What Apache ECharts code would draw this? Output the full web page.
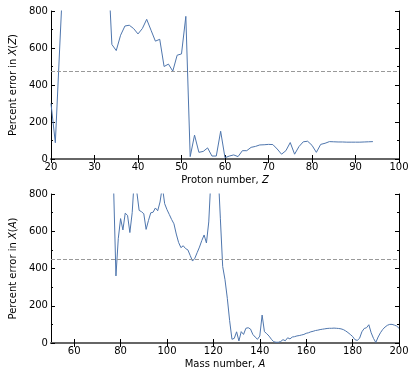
<!DOCTYPE html>
<html>
<head>
<meta charset="utf-8">
<script src="https://cdn.jsdelivr.net/npm/echarts@6/dist/echarts.min.js"></script>
<style>
  html, body { margin: 0; padding: 0; background: #fff; }
  #chart { width: 415px; height: 374px; }
</style>
</head>
<body>
<div id="chart"></div>
<script>
// top panel: percent error vs proton number Z
const protonStart = 20;
const zError = [
  300, 88, 600, 1100, 1200, 1200, 1200, 1200, 1200, 1200,
  1200, 1200, 1200, 1100, 619, 586, 669, 719, 723, 705,
  676, 705, 755, 696, 637, 647, 500, 513, 475, 561,
  568, 771, 13, 129, 36, 41, 60, 16, 16, 150,
  7, 16, 22, 13, 45, 45, 63, 68, 76, 77,
  79, 78, 54, 26, 45, 89, 26, 67, 93, 96,
  74, 36, 79, 85, 94, 93, 92, 92, 91, 91,
  91, 91, 92, 93, 94
];
const zMeanLine = 472;

// bottom panel: percent error vs mass number A
const massStart = 76;
const aError = [
  1300, 830, 360, 560, 668, 607, 697, 685, 593, 700,
  900, 810, 712, 705, 694, 610, 657, 699, 702, 725,
  710, 757, 840, 748, 716, 690, 663, 640, 585, 540,
  512, 522, 507, 500, 470, 440, 455, 485, 515, 550,
  580, 537, 650, 900, 1100, 1100, 930, 670, 411, 340,
  240, 120, 20, 25, 60, 11, 61, 46, 79, 82,
  75, 46, 32, 20, 37, 150, 61, 50, 37, 20,
  7, 4, 4, 8, 18, 12, 28, 22, 32, 34,
  38, 40, 43, 46, 52, 55, 60, 63, 67, 69,
  72, 74, 76, 78, 79, 79, 80, 79, 78, 76,
  72, 65, 56, 46, 35, 18, 14, 25, 60, 78,
  82, 98, 55, 25, 3, 32, 55, 73, 86, 95,
  100, 100, 96, 91, 79
];
const aMeanLine = 452;

const zTicks = [20, 30, 40, 50, 60, 70, 80, 90, 100];
const aTicks = [60, 80, 100, 120, 140, 160, 180, 200];

const lineColor = '#4f76ad';
const font = 'DejaVu Sans';

const zData = zError.map((v, i) => [protonStart + i, v]);
const aData = aError.map((v, i) => [massStart + i, v]);

const chart = echarts.init(document.getElementById('chart'));

function bottomAxis(grid, min, max, ticks, name) {
  return {
    type: 'value', gridIndex: grid, min: min, max: max, position: 'bottom',
    axisLine: { show: true, lineStyle: { color: '#000', width: 1 } },
    axisTick: { show: true, inside: true, length: 4, customValues: ticks, lineStyle: { color: '#000' } },
    axisLabel: { show: true, customValues: ticks, color: '#000', fontFamily: font, fontSize: 10, margin: 3 },
    splitLine: { show: false },
    name: name, nameLocation: 'middle', nameGap: 16,
    nameTextStyle: {
      color: '#000', fontFamily: font, fontSize: 10,
      rich: { i: { fontStyle: 'italic', fontFamily: font, fontSize: 10, color: '#000' } }
    }
  };
}

function topAxis(grid, min, max, ticks) {
  return {
    type: 'value', gridIndex: grid, min: min, max: max, position: 'top',
    axisLine: { show: true, lineStyle: { color: '#666', width: 2 } },
    axisTick: { show: true, inside: true, length: 4, customValues: ticks, lineStyle: { color: '#000' } },
    axisLabel: { show: false },
    splitLine: { show: false }
  };
}

function leftAxis(grid, name) {
  return {
    type: 'value', gridIndex: grid, min: 0, max: 800, interval: 200, position: 'left',
    axisLine: { show: true, lineStyle: { color: '#000', width: 1 } },
    axisTick: { show: true, inside: true, length: 4, lineStyle: { color: '#000' } },
    minorTick: { show: true, splitNumber: 2, length: 2, lineStyle: { color: '#000' } },
    axisLabel: { color: '#000', fontFamily: font, fontSize: 10, margin: 3 },
    splitLine: { show: false },
    name: name, nameLocation: 'middle', nameGap: 27, nameRotate: 90,
    nameTextStyle: {
      color: '#000', fontFamily: font, fontSize: 10,
      rich: { i: { fontStyle: 'italic', fontFamily: font, fontSize: 10, color: '#000' } }
    }
  };
}

function rightAxis(grid) {
  return {
    type: 'value', gridIndex: grid, min: 0, max: 800, interval: 200, position: 'right',
    axisLine: { show: true, lineStyle: { color: '#000', width: 1 } },
    axisTick: { show: true, inside: true, length: 4, lineStyle: { color: '#000' } },
    minorTick: { show: true, splitNumber: 2, length: 2, lineStyle: { color: '#000' } },
    axisLabel: { show: false },
    splitLine: { show: false }
  };
}

function meanMark(v) {
  return {
    silent: true, symbol: 'none', label: { show: false },
    lineStyle: { color: '#999', type: [4, 2], width: 1 },
    data: [{ yAxis: v }]
  };
}

const option = {
  animation: false,
  backgroundColor: '#fff',
  grid: [
    { left: 40, right: 16, top: 11, height: 148 },
    { left: 40, right: 16, top: 194, height: 149 }
  ],
  xAxis: [
    bottomAxis(0, 20, 100, zTicks, 'Proton number, {i|Z}'),
    bottomAxis(1, 50, 200, aTicks, 'Mass number, {i|A}'),
    topAxis(0, 20, 100, zTicks),
    topAxis(1, 50, 200, aTicks)
  ],
  yAxis: [
    leftAxis(0, 'Percent error in {i|X}({i|Z})'),
    leftAxis(1, 'Percent error in {i|X}({i|A})'),
    rightAxis(0),
    rightAxis(1)
  ],
  series: [
    {
      type: 'line', xAxisIndex: 0, yAxisIndex: 0, data: zData,
      showSymbol: false, clip: true,
      lineStyle: { color: lineColor, width: 1 },
      markLine: meanMark(zMeanLine)
    },
    {
      type: 'line', xAxisIndex: 1, yAxisIndex: 1, data: aData,
      showSymbol: false, clip: true,
      lineStyle: { color: lineColor, width: 1 },
      markLine: meanMark(aMeanLine)
    }
  ]
};

chart.setOption(option);
</script>
</body>
</html>
